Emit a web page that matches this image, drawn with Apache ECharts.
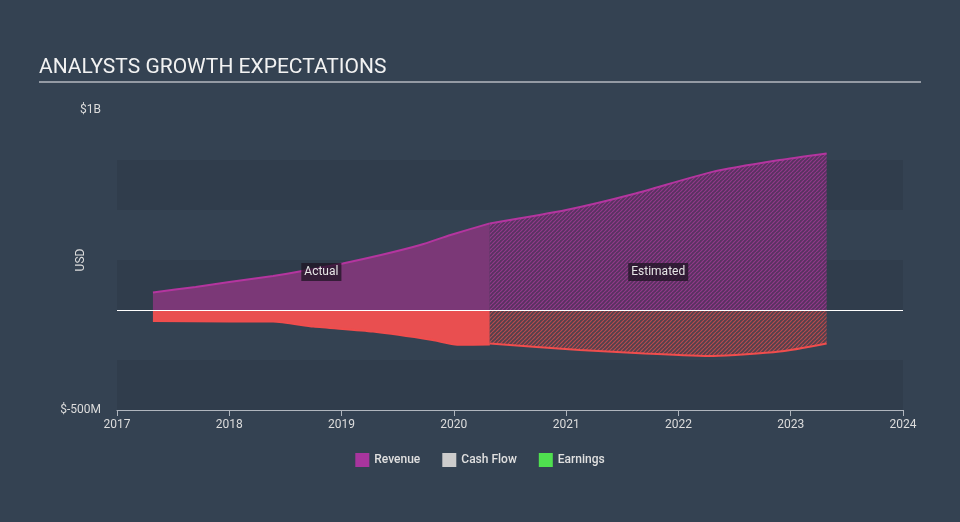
<!DOCTYPE html>
<html><head><meta charset="utf-8">
<script src="https://cdn.jsdelivr.net/npm/echarts@6/dist/echarts.min.js"></script>
<style>html,body{margin:0;padding:0;background:#344252;}#c{width:960px;height:522px;}</style>
</head><body><div id="c"></div>
<script>
// ---- data ----
const revenueActualYears = [2017.32, 2017.7, 2018.0, 2018.39, 2018.7, 2019.01, 2019.35, 2019.7, 2019.97, 2020.32];
const revenueActual      = [88e6, 115e6, 140e6, 170e6, 200e6, 233e6, 275e6, 325e6, 375e6, 433e6];
const revenueEstYears    = [2020.32, 2021.0, 2021.6, 2022.31, 2022.9, 2023.32];
const revenueEst         = [433e6, 500e6, 580e6, 692e6, 750e6, 783e6];
const earningsActualYears= [2017.32, 2018.0, 2018.39, 2018.75, 2019.28, 2019.81, 2020.03, 2020.32];
const earningsActual     = [-55e6, -57e6, -58e6, -83e6, -108e6, -150e6, -174e6, -172e6];
const earningsEstYears   = [2020.32, 2021.12, 2021.7, 2022.31, 2022.9, 2023.32];
const earningsEst        = [-167e6, -200e6, -217e6, -230e6, -208e6, -167e6];
const legendNames = ['Revenue', 'Cash Flow', 'Earnings'];
const yTickLabels = {'1000000000': '$1B', '-500000000': '$-500M'};

function pairs(xs, ys){ return xs.map((x,i)=>[x, ys[i]]); }
function hatch(base, stripe){
  const s = 4, c = document.createElement('canvas'); c.width = s; c.height = s;
  const g = c.getContext('2d');
  g.fillStyle = base; g.fillRect(0,0,s,s);
  g.strokeStyle = stripe; g.lineWidth = 1.2;
  for (let k=-1;k<=1;k++){ g.beginPath(); g.moveTo(k*s, s); g.lineTo(k*s + s, 0); g.stroke(); }
  return {image: c, repeat: 'repeat'};
}
const midActual = (revenueActualYears[0] + revenueActualYears[revenueActualYears.length-1]) / 2;
const midEst = (revenueEstYears[0] + revenueEstYears[revenueEstYears.length-1]) / 2;

const chart = echarts.init(document.getElementById('c'), null, {renderer:'canvas'});
const lbl = {show:true, color:'#e6e6e6', fontSize:12, fontFamily:'Roboto', backgroundColor:'rgba(30,20,35,0.75)', padding:[3,3]};
const common = {type:'line', smooth:0.2, symbol:'none', z:3};
chart.setOption({
  backgroundColor: '#344252',
  animation: false,
  textStyle: {fontFamily: 'Roboto'},
  graphic: [
    {type:'text', left: 39, top: 57, style:{text:'ANALYSTS GROWTH EXPECTATIONS', fill:'#f2f2f2', font:'21px Roboto'}},
    {type:'line', shape:{x1:39, y1:82, x2:921, y2:82}, style:{stroke:'#b4b9c0', lineWidth:1.5}},
    {type:'text', x:81, y:260, rotation:Math.PI/2, style:{text:'USD', fill:'#dcdcdc', font:'12px Roboto', align:'center', verticalAlign:'middle'}}
  ],
  grid: {left:117, right:57, top:110, bottom:112},
  legend: {
    bottom: 50, left: 'center', icon:'rect', itemWidth:14, itemHeight:14, itemGap:22,
    textStyle:{color:'#e0e0e0', fontSize:12, fontWeight:500},
    data: [
      {name: legendNames[0], itemStyle:{color:'#a8359e'}},
      {name: legendNames[1], itemStyle:{color:'#cccccc'}},
      {name: legendNames[2], itemStyle:{color:'#4fe04f'}}
    ]
  },
  xAxis: {
    type:'value', min:2017, max:2024, interval:1,
    axisLine:{show:true, onZero:false, lineStyle:{color:'#b0b6be', width:1}},
    axisTick:{show:true, length:6, lineStyle:{color:'#b0b6be'}},
    axisLabel:{color:'#dcdcdc', fontSize:12, margin:9, formatter: v => String(v)},
    splitLine:{show:false}
  },
  yAxis: {
    type:'value', min:-500e6, max:1000e6, interval:250e6,
    axisLine:{show:false}, axisTick:{show:false},
    axisLabel:{color:'#dcdcdc', fontSize:12, margin:16, formatter: v => yTickLabels[String(v)] || ''},
    splitLine:{show:false},
    splitArea:{show:true, areaStyle:{color:['#303d4c','rgba(0,0,0,0)']}}
  },
  series: [
    {name:'zero', type:'line', data:[], silent:true,
     markLine:{silent:true, symbol:'none', label:{show:false}, lineStyle:{color:'#ffffff', type:'solid', width:1}, data:[{yAxis:0}]}, z:1},
    Object.assign({}, common, {name:'Revenue', data:pairs(revenueActualYears, revenueActual),
     lineStyle:{color:'#b4359f', width:2}, itemStyle:{color:'#a8359e'}, areaStyle:{color:'#7b3877', opacity:1},
     markPoint:{symbol:'rect', symbolSize:1, itemStyle:{color:'rgba(0,0,0,0)'}, label:Object.assign({}, lbl, {formatter:'Actual', position:'inside'}),
       data:[{coord:[midActual, 190e6]}]}}),
    Object.assign({}, common, {name:'Revenue', data:pairs(revenueEstYears, revenueEst),
     lineStyle:{color:'#b4359f', width:2}, itemStyle:{color:'#a8359e'}, areaStyle:{color:hatch('rgba(95,48,100,0.85)','rgba(150,58,140,0.95)'), opacity:1},
     markPoint:{symbol:'rect', symbolSize:1, itemStyle:{color:'rgba(0,0,0,0)'}, label:Object.assign({}, lbl, {formatter:'Estimated', position:'inside'}),
       data:[{coord:[midEst, 190e6]}]}}),
    {name:'Cash Flow', type:'line', data:[], itemStyle:{color:'#cccccc'}},
    Object.assign({}, common, {name:'Earnings', data:pairs(earningsActualYears, earningsActual),
     lineStyle:{color:'#f04d4d', width:2}, itemStyle:{color:'#4fe04f'}, areaStyle:{color:'#e94f50', opacity:1}}),
    Object.assign({}, common, {name:'Earnings', data:pairs(earningsEstYears, earningsEst),
     lineStyle:{color:'#f04d4d', width:2}, itemStyle:{color:'#4fe04f'}, areaStyle:{color:hatch('rgba(90,65,75,0.8)','rgba(190,75,78,0.95)'), opacity:1}})
  ]
});
</script></body></html>
